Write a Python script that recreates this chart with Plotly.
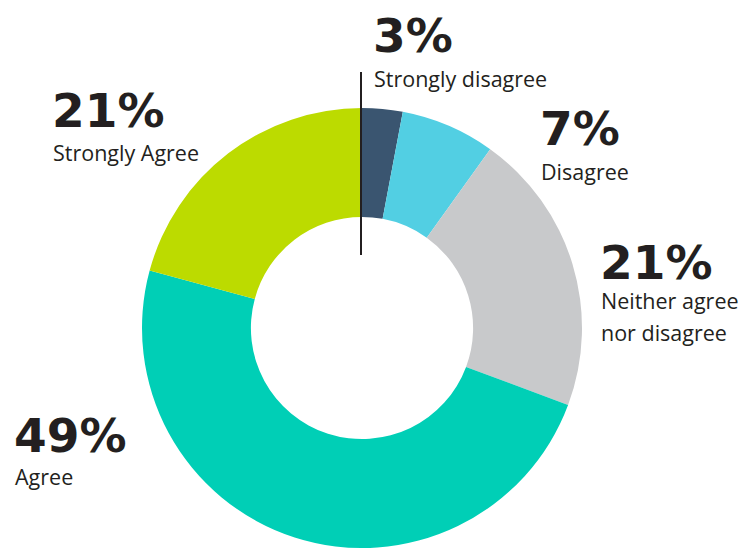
import plotly.graph_objects as go

categories = ["Strongly disagree", "Disagree", "Neither agree<br>nor disagree", "Agree", "Strongly Agree"]
values = [3, 7, 21, 49, 21]
pct_labels = ["3%", "7%", "21%", "49%", "21%"]
colors = ["#3a5570", "#52cfe3", "#c8c9cb", "#00cfb6", "#bcdb00"]

# text block positions in pixels: x left edge, percentage top, label first-line centre
text_x = [374, 541, 601, 15, 53]
pct_top = [6, 99, 233, 406, 81]
label_mid = [79, 172, 300, 476, 153]

W, H = 739, 548
cx, cy, r = 362, 329, 221

fig = go.Figure()
fig.add_trace(go.Pie(
    values=values,
    labels=categories,
    marker=dict(colors=colors, line=dict(width=0)),
    hole=0.505,
    sort=False,
    direction="clockwise",
    rotation=0,
    textinfo="none",
    hoverinfo="label+percent",
    showlegend=False,
    domain=dict(x=[(cx - r) / W, (cx + r) / W],
                y=[max(0.0, (H - cy - r) / H), min(1.0, (H - cy + r) / H)]),
))

for cat, pct, x, pt, lm in zip(categories, pct_labels, text_x, pct_top, label_mid):
    fig.add_annotation(
        x=(x - 3) / W, y=1 - pt / H, xref="paper", yref="paper",
        xanchor="left", yanchor="top", align="left", showarrow=False,
        text=f"<b>{pct}</b>",
        font=dict(family="DejaVu Sans", size=47, color="#231f20"),
    )
    for i, line in enumerate(cat.split("<br>")):
        fig.add_annotation(
            x=(x - 2) / W, y=1 - (lm + 32 * i) / H, xref="paper", yref="paper",
            xanchor="left", yanchor="middle", align="left", showarrow=False,
            text=line,
            font=dict(family="Open Sans", size=21.5, color="#231f20"),
        )

fig.add_shape(type="line", xref="paper", yref="paper",
              x0=361 / W, x1=361 / W, y0=1 - 72 / H, y1=1 - 255 / H,
              line=dict(color="#231f20", width=2))

fig.update_layout(
    width=W, height=H,
    margin=dict(l=0, r=0, t=0, b=0),
    paper_bgcolor="white", plot_bgcolor="white",
)
fig.write_html("out.html")
